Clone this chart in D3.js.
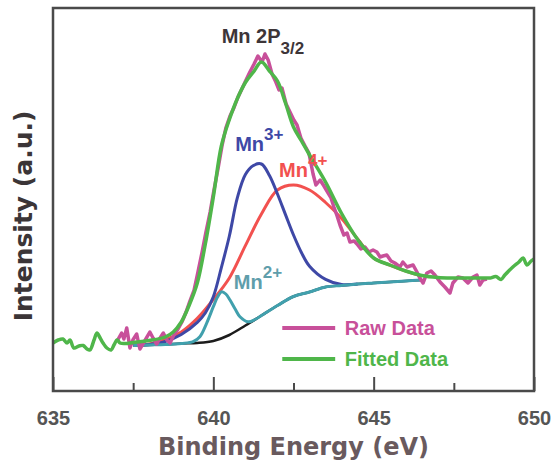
<!DOCTYPE html>
<html>
<head>
    <meta charset="utf-8">
    <title>Mn 2P3/2 XPS spectrum</title>
    <script src="https://d3js.org/d3.v7.min.js"></script>
    <style>
        body { margin: 0; background: #fff; }
    </style>
</head>
<body>
    <div id="chart"></div>
    <script>

        // binding energy (eV) / intensity (a.u.)

        var bgE = [637.5, 638, 638.5, 639, 639.5, 640, 640.5, 641, 641.5, 642, 642.5, 643, 643.5, 644, 644.5, 645, 645.5, 646, 646.5];
        var bgI = [45.5, 46, 46.5, 47.5, 48, 50, 56, 65.5, 75.5, 85.5, 94.5, 99, 104, 105.5, 107, 108, 109, 110, 111];

        var mn2E = [637.5, 638, 638.5, 639, 639.37, 639.58, 639.79, 640.0, 640.13, 640.26, 640.39, 640.52, 640.68, 640.83, 641.08, 641.3, 641.5, 642, 642.5, 643, 643.5, 644, 644.5, 645, 645.5, 646, 646.5];
        var mn2I = [45.5, 46, 46.5, 47.5, 49.3, 54.3, 67.7, 84.3, 94, 99.3, 97, 91, 82, 74.3, 69.3, 71.5, 75.5, 85.5, 94.5, 99, 104, 105.5, 107, 108, 109, 110, 111];

        var mn3E = [637.5, 638, 638.5, 639, 639.5, 639.75, 640, 640.25, 640.5, 640.75, 641, 641.25, 641.5, 641.75, 642, 642.25, 642.5, 642.75, 643, 643.5, 644, 644.5];
        var mn3I = [46, 46.5, 49.5, 56.5, 68.7, 78, 94.3, 123.4, 155, 193.3, 216.5, 225.5, 227, 215.5, 197, 176.4, 156, 138.3, 124.8, 111.6, 106.5, 107];

        var mn4E = [637.5, 638, 638.5, 639, 639.5, 640, 640.5, 641, 641.5, 642, 642.5, 643, 643.5, 644, 644.5, 645, 645.5, 646, 646.5];
        var mn4I = [46, 47, 51.3, 59, 72.6, 91.5, 113, 145.3, 177, 201, 206, 201, 188.5, 172.5, 152, 133, 126, 120, 115];

        var fitE = [635.00, 635.16, 635.31, 635.44, 635.53, 635.65, 635.81, 635.94, 636.06, 636.15, 636.28, 636.37, 636.47, 636.56, 636.68, 636.81, 636.90, 637.00, 637.09, 637.25,
                    637.5, 638, 638.5, 638.75, 639, 639.25, 639.5, 639.75, 640, 640.25, 640.5, 640.75, 641, 641.25, 641.5, 641.75, 642, 642.25, 642.5, 642.75, 643, 643.5, 644, 644.5, 645, 645.5, 646, 646.5, 647, 647.5, 648, 648.5,
                    648.63, 648.81, 648.97, 649.09, 649.34, 649.53, 649.66, 649.78, 649.91, 650.0];
        var fitI = [48, 51, 52, 48, 51, 43, 45, 45.5, 42, 41, 51, 58, 53, 48, 43, 41, 46, 51, 48, 47.5,
                    48.5, 50.5, 54, 59, 69, 86, 108, 147, 194, 245, 271.5, 292.5, 308.5, 319, 329, 320, 310, 288, 264, 250, 236, 209, 177.5, 151.5, 133, 126, 120, 115.5, 113.5, 113, 113, 113,
                    113, 114.5, 111.5, 116, 124, 129, 133, 126, 130, 132];

        var rawE = [637.00, 637.14, 637.21, 637.30, 637.40, 637.49, 637.61, 637.71, 637.84, 638.02, 638.12, 638.23, 638.34, 638.44, 638.55, 638.65, 638.77, 638.90,
                    639.02, 639.15, 639.27, 639.40, 639.52, 639.65, 639.77, 639.90, 640.02, 640.15, 640.27, 640.39, 640.52, 640.64, 640.77, 640.89,
                    641.02, 641.14, 641.27, 641.39, 641.52, 641.61, 641.71, 641.83, 641.95, 642.05, 642.14, 642.27, 642.39, 642.51, 642.61, 642.73, 642.86, 642.98,
                    643.11, 643.20, 643.33, 643.45, 643.58, 643.67, 643.76, 643.86, 643.95, 644.07, 644.17, 644.26, 644.39, 644.48, 644.60, 644.73, 644.85, 644.98,
                    645.10, 645.20, 645.29, 645.41, 645.54, 645.66, 645.82, 645.91, 646.04, 646.13, 646.23, 646.35, 646.44, 646.54, 646.66, 646.79, 646.91,
                    647.07, 647.22, 647.38, 647.47, 647.63, 647.78, 647.94, 648.10, 648.22, 648.31, 648.41, 648.53];
        var rawI = [50, 58, 52, 63, 43, 51, 57, 42, 49, 59, 53, 47, 53, 58, 51, 48, 56, 62,
                    69, 79, 90, 101, 119, 139, 159, 179, 201, 223, 245, 263, 275, 283, 294, 302,
                    311, 319, 327, 335, 329, 337, 331, 317, 309, 301, 303, 287, 279, 271, 266, 253, 245, 238,
                    217, 206, 211, 205, 198, 193, 184, 175, 166, 156, 158, 149, 150, 147, 142, 144, 139, 141,
                    139, 134, 135, 136, 130, 128, 124, 129, 124, 125, 126, 119, 113, 108, 118, 120, 116,
                    109, 104, 98, 108, 114, 113, 108, 114, 116, 106, 111, 112];

        var xTicks = [635, 640, 645, 650];
        var xMinorTicks = [637.5, 642.5, 647.5];

        var margin = {top: 8, right: 18, bottom: 73, left: 53};
        var width = 552 - margin.left - margin.right;
        var height = 464 - margin.top - margin.bottom;

        var svg = d3.select("#chart")
                    .append("svg")
                    .attr("width", 552)
                    .attr("height", 464)
                    .append("g")
                    .attr("transform", "translate(" + margin.left + "," + margin.top + ")");

        var x = d3.scaleLinear().domain([635, 650]).range([0, width]);
        var y = d3.scaleLinear().domain([0, 383]).range([height, 0]);

        function pts(es, is) {
            return es.map(function(e, i) { return [e, is[i]]; });
        }

        var smooth = d3.line()
            .x(function(d) { return x(d[0]); })
            .y(function(d) { return y(d[1]); })
            .curve(d3.curveCatmullRom.alpha(0.5));

        var jagged = d3.line()
            .x(function(d) { return x(d[0]); })
            .y(function(d) { return y(d[1]); });

        // components
        svg.append("path").datum(pts(bgE, bgI))
            .attr("fill", "none").attr("stroke", "#1c1c1c").attr("stroke-width", 2.5)
            .attr("d", smooth);
        svg.append("path").datum(pts(mn4E, mn4I))
            .attr("fill", "none").attr("stroke", "#f2514f").attr("stroke-width", 3)
            .attr("d", smooth);
        svg.append("path").datum(pts(mn3E, mn3I))
            .attr("fill", "none").attr("stroke", "#3e48a6").attr("stroke-width", 3)
            .attr("d", smooth);
        svg.append("path").datum(pts(mn2E, mn2I))
            .attr("fill", "none").attr("stroke", "#41a0ad").attr("stroke-width", 3)
            .attr("d", smooth);

        // raw + fit
        svg.append("path").datum(pts(rawE, rawI))
            .attr("fill", "none").attr("stroke", "#c8509a").attr("stroke-width", 3.5)
            .attr("stroke-linejoin", "round")
            .attr("d", jagged);
        svg.append("path").datum(pts(fitE, fitI))
            .attr("fill", "none").attr("stroke", "#4fb64a").attr("stroke-width", 3.5)
            .attr("stroke-linejoin", "round")
            .attr("d", smooth);

        // frame
        svg.append("rect")
            .attr("x", 0).attr("y", 0)
            .attr("width", width).attr("height", height)
            .attr("fill", "none")
            .attr("stroke", "#4a4a4a")
            .attr("stroke-width", 2.5);

        var xAxis = svg.append("g")
            .attr("transform", "translate(0," + height + ")")
            .call(d3.axisBottom(x).tickValues(xTicks).tickSize(-14).tickPadding(20).tickFormat(d3.format("d")));
        xAxis.select(".domain").remove();
        xAxis.selectAll("line").attr("stroke", "#4a4a4a").attr("stroke-width", 2);
        xAxis.selectAll("text")
            .style("font-family", "'Liberation Sans', Arial, sans-serif")
            .style("font-size", "20px")
            .style("font-weight", "bold")
            .attr("fill", "#555");

        var xMinor = svg.append("g")
            .attr("transform", "translate(0," + height + ")")
            .call(d3.axisBottom(x).tickValues(xMinorTicks).tickSize(-8).tickFormat(""));
        xMinor.select(".domain").remove();
        xMinor.selectAll("line").attr("stroke", "#4a4a4a").attr("stroke-width", 2);

        // axis titles
        svg.append("text")
            .attr("x", width / 2)
            .attr("y", height + 64)
            .attr("text-anchor", "middle")
            .style("font-family", "'DejaVu Sans', sans-serif")
            .style("font-size", "24px")
            .style("font-weight", "bold")
            .attr("fill", "#695a5e")
            .text("Binding Energy (eV)");

        svg.append("text")
            .attr("transform", "rotate(-90)")
            .attr("x", -208)
            .attr("y", -21)
            .attr("text-anchor", "middle")
            .style("font-family", "'DejaVu Sans', sans-serif")
            .style("font-size", "25px")
            .style("font-weight", "bold")
            .attr("fill", "#3b3537")
            .text("Intensity (a.u.)");

        // peak labels
        function label(e, v, main, sup, sub, color) {
            var t = svg.append("text")
                .attr("x", x(e))
                .attr("y", y(v))
                .style("font-family", "'Liberation Sans', Arial, sans-serif")
                .style("font-size", "20px")
                .style("font-weight", "bold")
                .attr("fill", color);
            t.append("tspan").text(main);
            if (sup) t.append("tspan").attr("dy", -11).style("font-size", "17px").text(sup);
            if (sub) t.append("tspan").attr("dy", 11).style("font-size", "17px").text(sub);
        }
        label(640.26, 348, "Mn 2P", null, "3/2", "#3d3538");
        label(640.68, 240, "Mn", "3+", null, "#3e48a6");
        label(642.05, 214, "Mn", "4+", null, "#f2514f");
        label(640.64, 102, "Mn", "2+", null, "#5f9eab");

        // legend
        var legend = [
            {name: "Raw Data", color: "#c8509a", v: 63},
            {name: "Fitted Data", color: "#4fb64a", v: 32}
        ];
        legend.forEach(function(d) {
            svg.append("line")
                .attr("x1", x(642.15)).attr("x2", x(643.8))
                .attr("y1", y(d.v)).attr("y2", y(d.v))
                .attr("stroke", d.color).attr("stroke-width", 4);
            svg.append("text")
                .attr("x", x(644.1))
                .attr("y", y(d.v) + 7)
                .style("font-family", "'Liberation Sans', Arial, sans-serif")
                .style("font-size", "20px")
                .style("font-weight", "bold")
                .attr("fill", d.color)
                .text(d.name);
        });

    </script>
</body>
</html>
